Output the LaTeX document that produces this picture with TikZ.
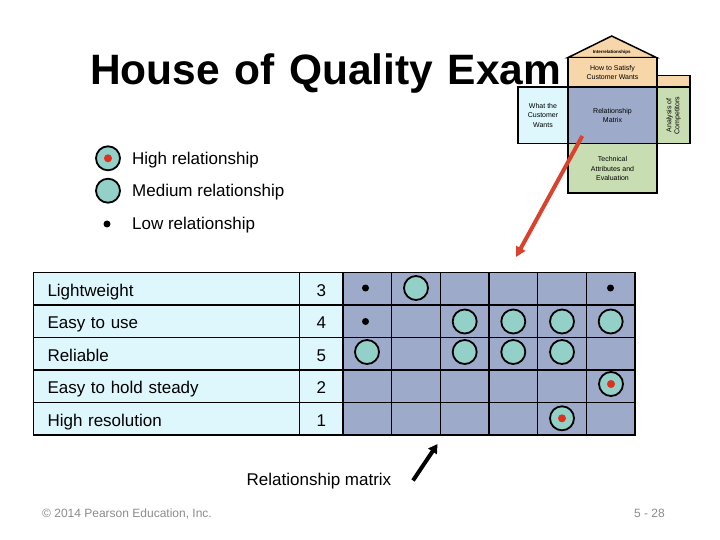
\documentclass[tikz,border=0pt]{standalone}
\usepackage{fontspec}
\setmainfont{Liberation Sans}
\usetikzlibrary{arrows.meta}

\definecolor{tablecyan}{HTML}{DDF7FD}
\definecolor{matrixgrey}{HTML}{9DAAC9}
\definecolor{mediumteal}{HTML}{92D0C8}
\definecolor{highred}{HTML}{E0301E}
\definecolor{roofsand}{HTML}{F7D6AA}
\definecolor{techgreen}{HTML}{C8DDB2}
\definecolor{arrowred}{HTML}{D9432E}
\definecolor{footgrey}{HTML}{8C8C8C}

\newcommand{\titlefont}{\fontsize{42.5}{48}\bfseries\spaceskip=14.5pt\relax}

\begin{document}
\begin{tikzpicture}[x=1pt, y=-1pt,
		housebox/.style={rectangle, draw, line width=1.5pt, inner sep=0pt, align=center, font=\fontsize{7}{9.5}\selectfont},
		labelcell/.style={rectangle, draw, line width=1.5pt, fill=tablecyan, minimum height=32.5pt, inner xsep=14pt, inner ysep=0pt, text width=238pt, align=left, text height=16pt, text depth=1pt, font=\fontsize{17}{20}\selectfont},
		numcell/.style={rectangle, draw, line width=1.5pt, fill=tablecyan, minimum height=32.5pt, minimum width=43.5pt, inner sep=0pt, text height=16pt, text depth=1pt, font=\fontsize{17}{20}\selectfont},
		medium/.style={circle, draw, line width=1.8pt, fill=mediumteal, minimum size=24pt, inner sep=0pt},
		high/.style={medium, path picture={\fill[highred] (path picture bounding box.center) circle (4pt);}},
		low/.style={circle, fill=black, minimum size=7pt, inner sep=0pt},
		legendtext/.style={anchor=base west, inner sep=0pt, font=\fontsize{17}{20}\selectfont}]
			\fill[white] (0, 0) rectangle (720, 540);
			\useasboundingbox (0, 0) rectangle (720, 540);

			% title, its last letter partly hidden by the house
			\draw (90, 84.5) node [anchor=base west, inner sep=0pt, font=\titlefont] (title) {House of Quality Exam};

			% the house
			\draw [line width=1.5pt, fill=roofsand] (567.7, 57.7) -- (611.7, 36) -- (656.7, 57.7) -- cycle;
			\draw (611.7, 52.5) node [inner sep=0pt, font=\fontsize{4.5}{5}\bfseries] (roof) {Interrelationships};
			\draw [line width=1.5pt, fill=roofsand] (656.7, 75.7) rectangle (690, 87);
			\draw (612.5, 72.3) node [housebox, fill=roofsand, minimum width=89pt, minimum height=29.3pt] (how) {How to Satisfy\\Customer Wants};
			\draw (543, 115.5) node [housebox, fill=tablecyan, minimum width=50pt, minimum height=56.5pt] (what) {What the\\Customer\\Wants};
			\draw (612.5, 115.5) node [housebox, fill=matrixgrey, minimum width=89pt, minimum height=56.5pt] (rel) {Relationship\\Matrix};
			\draw (673.5, 115.5) node [housebox, fill=techgreen, minimum width=33pt, minimum height=56.5pt] (comp) {};
			\draw (673.5, 115.5) node [rotate=90, align=center, inner sep=0pt, font=\fontsize{7}{8}\selectfont] (comptext) {Analysis of\\Competitors};
			\draw (612.5, 168.5) node [housebox, fill=techgreen, minimum width=89pt, minimum height=49.5pt] (tech) {Technical\\Attributes and\\Evaluation};

			% legend
			\draw (108, 158.3) node [high] (lhigh) {};
			\draw (108, 190.7) node [medium] (lmed) {};
			\draw (107, 224) node [low] (llow) {};
			\draw (132, 164.9) node [legendtext] (thigh) {High relationship};
			\draw (132, 196.5) node [legendtext] (tmed) {Medium relationship};
			\draw (132, 229.5) node [legendtext] (tlow) {Low relationship};

			% customer wants and importance
			\draw (166.5, 288.75) node [labelcell] (w1) {Lightweight};
			\draw (166.5, 321.25) node [labelcell] (w2) {Easy to use};
			\draw (166.5, 353.75) node [labelcell] (w3) {Reliable};
			\draw (166.5, 386.25) node [labelcell] (w4) {Easy to hold steady};
			\draw (166.5, 418.75) node [labelcell] (w5) {High resolution};
			\draw (321.25, 288.75) node [numcell] (n1) {3};
			\draw (321.25, 321.25) node [numcell] (n2) {4};
			\draw (321.25, 353.75) node [numcell] (n3) {5};
			\draw (321.25, 386.25) node [numcell] (n4) {2};
			\draw (321.25, 418.75) node [numcell] (n5) {1};

			% relationship matrix
			\draw [line width=1.5pt, fill=matrixgrey] (343, 272.5) rectangle (635, 435);
			\draw [line width=1.5pt] (391.7, 272.5) -- (391.7, 435);
			\draw [line width=1.5pt] (440.3, 272.5) -- (440.3, 435);
			\draw [line width=1.5pt] (489, 272.5) -- (489, 435);
			\draw [line width=1.5pt] (537.7, 272.5) -- (537.7, 435);
			\draw [line width=1.5pt] (586.3, 272.5) -- (586.3, 435);
			\draw [line width=1.5pt] (343, 305) -- (635, 305);
			\draw [line width=1.5pt] (343, 337.5) -- (635, 337.5);
			\draw [line width=1.5pt] (343, 370) -- (635, 370);
			\draw [line width=1.5pt] (343, 402.5) -- (635, 402.5);

			\draw (365.5, 288) node [low] (m11) {};
			\draw (416, 288) node [medium] (m12) {};
			\draw (610.5, 288) node [low] (m16) {};
			\draw (365.5, 321.5) node [low] (m21) {};
			\draw (464.7, 321.5) node [medium] (m23) {};
			\draw (513.3, 321.5) node [medium] (m24) {};
			\draw (562, 321.5) node [medium] (m25) {};
			\draw (610.7, 321.5) node [medium] (m26) {};
			\draw (367, 352) node [medium] (m31) {};
			\draw (464.7, 352) node [medium] (m33) {};
			\draw (513.3, 352) node [medium] (m34) {};
			\draw (562, 352) node [medium] (m35) {};
			\draw (611, 384) node [high] (m46) {};
			\draw (562, 418.3) node [high] (m55) {};

			% pointers
			\coordinate (redtail) at (582.3, 136);
			\coordinate (redtip) at (516, 257);
			\draw [arrowred, line width=4pt, -{Triangle[length=10pt, width=10pt]}] (redtail) -- (redtip);

			\draw (319, 481) node [inner sep=0pt, font=\fontsize{17}{20}\selectfont] (relmat) {Relationship matrix};
			\coordinate (blacktail) at (413, 480.5);
			\coordinate (blacktip) at (437.5, 444);
			\draw [line width=4pt, -{Triangle[length=9pt, width=10pt]}] (blacktail) -- (blacktip);

			% footer
			\draw (42, 517.5) node [anchor=base west, inner sep=0pt, text=footgrey, font=\fontsize{12}{14}\selectfont] (copy) {© 2014 Pearson Education, Inc.};
			\draw (665, 517.5) node [anchor=base east, inner sep=0pt, text=footgrey, font=\fontsize{12}{14}\selectfont] (page) {5 - 28};
		\end{tikzpicture}
\end{document}
